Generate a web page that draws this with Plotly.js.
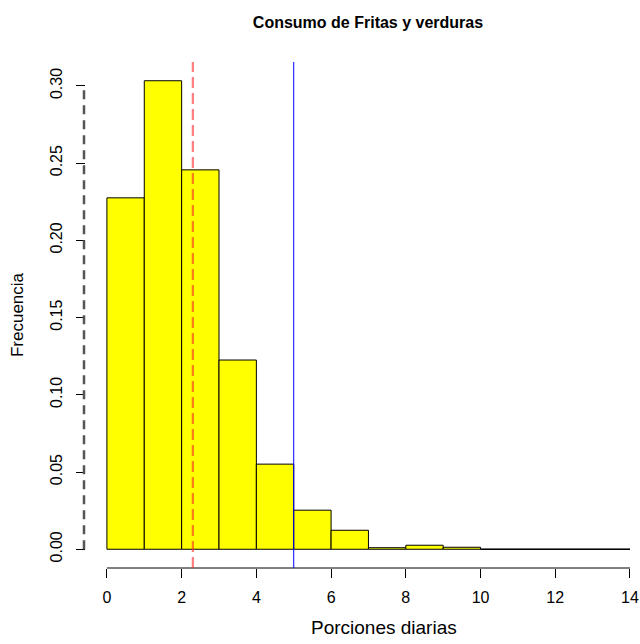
<!DOCTYPE html>
<html><head><meta charset="utf-8">
<script src="https://cdn.plot.ly/plotly-3.0.1.min.js"></script>
<style>body{margin:0;background:#fff}#c{width:640px;height:644px}</style>
</head><body><div id="c"></div>
<script>
const binStarts = [0,1,2,3,4,5,6,7,8,9,10,11,12,13];
const freqs = [0.2275,0.3033,0.2456,0.1225,0.0551,0.0253,0.0123,0.0010,0.0026,0.0013,0,0,0,0];
const meanValue = 2.3;
const refValue = 5;
const xTicks = [0,2,4,6,8,10,12,14];
const yTicks = [0,0.05,0.10,0.15,0.20,0.25,0.30];

const font = "Liberation Sans, Arial, sans-serif";
const centers = binStarts.map(b => b + 0.5);
const yMax = Math.max(...freqs);
const pad = yMax * 0.04;
const zeroBins = binStarts.filter((b,i)=>freqs[i]===0);

const traces = [{
  type: 'bar', x: centers, y: freqs, width: 1,
  marker: {color: '#FFFF00', line: {color: '#000', width: 1}},
  hoverinfo: 'skip', showlegend: false
}, {
  type: 'scatter', mode: 'lines',
  x: zeroBins.flatMap(b=>[b,b+1]),
  y: zeroBins.flatMap(()=>[0,0]),
  line: {color: '#000', width: 1}, showlegend: false, hoverinfo: 'skip'
}];

const layout = {
  width: 640, height: 644,
  margin: {l: 86, r: 0, t: 62, b: 76},
  paper_bgcolor: '#fff', plot_bgcolor: '#fff',
  bargap: 0,
  title: {text: '<b>Consumo de Fritas y verduras</b>', x: 368/640, xanchor: 'center', y: 1 - 22/644, yanchor: 'middle',
          font: {family: font, size: 16, color: '#000'}},
  xaxis: {range: [-0.56, 14.268], tickvals: xTicks, ticktext: xTicks.map(String),
          showgrid: false, zeroline: false, showline: false,
          ticks: 'outside', ticklen: 9, tickwidth: 1, tickcolor: '#000',
          ticklabelstandoff: 6,
          tickfont: {family: font, size: 16, color: '#000'}},
  yaxis: {range: [-pad, yMax + pad], tickvals: yTicks, ticktext: yTicks.map(v=>v.toFixed(2)),
          tickangle: -90,
          showgrid: false, zeroline: false, showline: false,
          ticks: 'outside', ticklen: 9, tickwidth: 1, tickcolor: '#000',
          ticklabelstandoff: 8,
          tickfont: {family: font, size: 16, color: '#000'},
          title: {text: 'Frecuencia', font: {family: font, size: 17, color: '#000'}, standoff: 19}},
  annotations: [{
    text: 'Porciones diarias', xref: 'paper', yref: 'paper',
    x: (384 - 86) / 554, y: 1 - (627 - 62) / 506, xanchor: 'center', yanchor: 'middle',
    showarrow: false, font: {family: font, size: 19, color: '#000'}
  }],
  shapes: [
    {type:'line', xref:'x', yref:'paper', x0: xTicks[0], x1: xTicks[xTicks.length-1], y0: 0, y1: 0,
     line:{color:'#000', width:1}},
    {type:'line', xref:'paper', yref:'y', x0: -2/554, x1: -2/554, y0: yTicks[0], y1: yTicks[yTicks.length-1],
     line:{color:'#555', width:2.5, dash:'9px,6px'}},
    {type:'line', xref:'x', yref:'paper', x0: meanValue, x1: meanValue, y0: 0, y1: 1,
     line:{color:'rgba(255,40,40,0.6)', width:2.2, dash:'11px,5px'}},
    {type:'line', xref:'x', yref:'paper', x0: refValue, x1: refValue, y0: 0, y1: 1,
     line:{color:'#0000FF', width:1}}
  ]
};
Plotly.newPlot('c', traces, layout, {displayModeBar: false, staticPlot: true});
</script></body></html>
